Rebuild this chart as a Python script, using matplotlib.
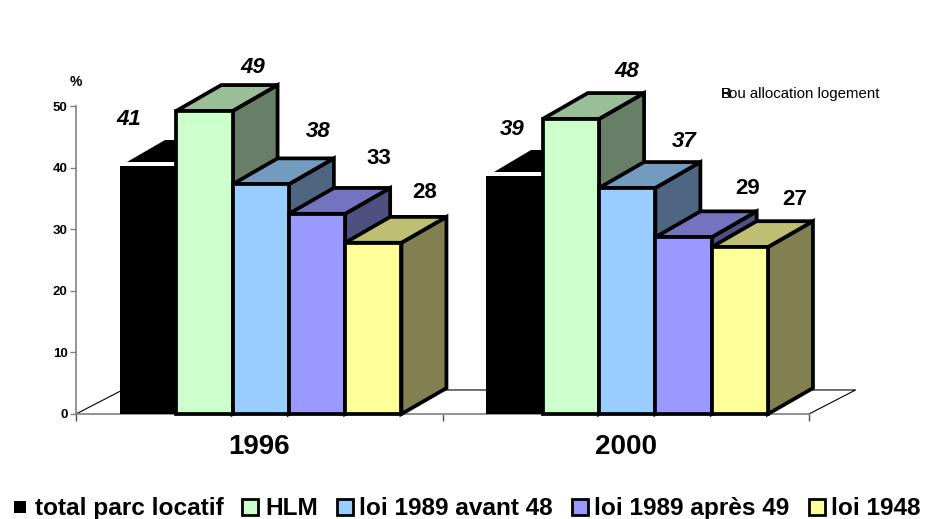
import matplotlib
matplotlib.use('Agg')
import matplotlib.pyplot as plt
from matplotlib.lines import Line2D
from matplotlib.patches import Polygon, Rectangle

plt.rcParams['font.family'] = ['Liberation Sans', 'DejaVu Sans']

years = ['1996', '2000']
series = ['total parc locatif', 'HLM', 'loi 1989 avant 48', 'loi 1989 après 49', 'loi 1948']
heights_1996 = [40.3, 49.2, 37.3, 32.5, 27.8]
heights_2000 = [38.6, 47.9, 36.7, 28.7, 27.1]
labels_1996 = ['41', '49', '38', '33', '28']
labels_2000 = ['39', '48', '37', '29', '27']
italic_1996 = [True, True, True, False, False]
italic_2000 = [True, True, True, False, False]

front_col = ['#000000', '#CCFFCC', '#99CCFF', '#9999FF', '#FFFF99']
top_col = ['#000000', '#99BF99', '#739ABF', '#7373BF', '#BFBF73']
side_col = ['#000000', '#667F66', '#4F6682', '#505080', '#808050']

W, H = 934, 519
fig = plt.figure(figsize=(W / 100, H / 100), dpi=100)
# plot box in pixels: x 76..809, y 106..414
ax = fig.add_axes([76 / W, (H - 414) / H, 733 / W, 308 / H])
ax.set_xlim(0, 2)
ax.set_ylim(0, 50)

bar_w = 0.1536
dx = 0.1228
dy = 4.2
edge = dict(edgecolor='black', linewidth=2.7, joinstyle='miter', clip_on=False)

# floor
ax.plot([0, 0.127, 2.127, 2], [0, 3.9, 3.9, 0], color='black', lw=0.8, clip_on=False, zorder=1)

for g, heights in enumerate([heights_1996, heights_2000]):
    x0 = g + 0.12
    for i, h in enumerate(heights):
        x = x0 + i * bar_w
        z = 3 + i
        if i == 0:
            # black bar has a white edge along the top
            ax.add_patch(Rectangle((x, 0), bar_w, h, facecolor='black', edgecolor='none', zorder=z))
            ax.add_patch(Polygon([(x + 0.02, h + 0.65), (x + bar_w, h + 0.65), (x + bar_w, h + dy),
                                  (x + dx, h + dy)], facecolor='black', edgecolor='none', zorder=z))
            continue
        ax.add_patch(Polygon([(x + bar_w, 0), (x + bar_w + dx, dy), (x + bar_w + dx, h + dy), (x + bar_w, h)],
                             facecolor=side_col[i], zorder=z, **edge))
        ax.add_patch(Polygon([(x, h), (x + dx, h + dy), (x + bar_w + dx, h + dy), (x + bar_w, h)],
                             facecolor=top_col[i], zorder=z, **edge))
        ax.add_patch(Rectangle((x, 0), bar_w, h, facecolor=front_col[i], zorder=z, **edge))

# value labels, offset in points from the top front of each bar
offs_1996 = [(-14, 33), (34.5, 31.5), (41.5, 38), (44.5, 40), (37, 36)]
offs_2000 = [(-2, 34), (40, 34.5), (41, 33.5), (46, 35), (39.5, 34.5)]
for g, (heights, labs, ital, offs) in enumerate([(heights_1996, labels_1996, italic_1996, offs_1996),
                                                 (heights_2000, labels_2000, italic_2000, offs_2000)]):
    for i, h in enumerate(heights):
        x = g + 0.12 + i * bar_w + bar_w / 2
        ax.annotate(labs[i], (x, h), xytext=offs[i], textcoords='offset points', ha='center', va='center',
                    fontsize=16, fontweight='bold', fontstyle='italic' if ital[i] else 'normal',
                    color='black', zorder=20, annotation_clip=False)

for s in ['top', 'right']:
    ax.spines[s].set_visible(False)
for s in ['left', 'bottom']:
    ax.spines[s].set_color('#808080')
    ax.spines[s].set_linewidth(1.2)
ax.set_yticks([0, 10, 20, 30, 40, 50])
ax.tick_params(axis='y', labelsize=9.5, length=4.5, color='#808080', width=1, pad=1.5)
for t in ax.get_yticklabels():
    t.set_fontweight('bold')
ax.set_xticks([0, 1, 2])
ax.set_xticklabels([])
ax.tick_params(axis='x', which='major', length=5, color='#505050', width=1)
ax.set_xticks([0.5, 1.5], minor=True)
ax.set_xticklabels(years, minor=True, fontsize=20, fontweight='bold')
ax.tick_params(axis='x', which='minor', length=0, pad=14.5)

fig.text(76 / W, 1 - 82 / H, '%', fontsize=10, fontweight='bold', ha='center', va='center')

# overlapping letters as in the source
note_y = 1 - 94 / H
fig.text(721 / W, note_y, 'R', fontsize=10.8, ha='left', va='center')
fig.text(721 / W, note_y, 'B', fontsize=10.8, ha='left', va='center')
fig.text(729 / W, note_y, 'ou allocation logement', fontsize=10.8, ha='left', va='center')

sizes = [8, 12, 12, 12, 12]
handles = [Line2D([], [], linestyle='none', marker='s', markersize=sizes[i], markerfacecolor=front_col[i],
                  markeredgecolor='black', markeredgewidth=2 if i else 0) for i in range(5)]
fig.legend(handles, series, ncol=5, frameon=False, loc='lower left', bbox_to_anchor=(0.003, -0.012),
           prop=dict(size=17.6, weight='bold'), handlelength=1.0, handletextpad=0.1,
           columnspacing=0.6, borderaxespad=0, borderpad=0.2)

fig.savefig('out.png', dpi=100)
